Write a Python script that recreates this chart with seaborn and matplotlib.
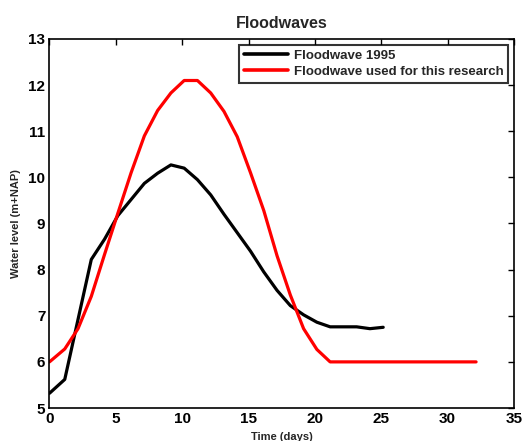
import matplotlib
matplotlib.use("Agg")
import matplotlib.pyplot as plt
import seaborn as sns
import pandas as pd

# Data
days_1995 = [0, 1.15, 3.15, 4.15, 5.15, 6.15, 7.15, 8.15, 9.15, 10.15, 11.15, 12.15,
             13.15, 14.15, 15.15, 16.15, 17.15, 18.15, 19.15, 20.15, 21.15, 22.15,
             23.15, 24.15, 25.15]
level_1995 = [5.32, 5.62, 8.22, 8.66, 9.17, 9.52, 9.87, 10.09, 10.27, 10.20, 9.95, 9.62,
              9.20, 8.80, 8.40, 7.95, 7.55, 7.22, 7.02, 6.86, 6.76, 6.76,
              6.76, 6.72, 6.75]

days_used = [0, 1.15, 2.15, 3.15, 4.15, 5.15, 6.15, 7.15, 8.15, 9.15, 10.15, 11.15,
             12.15, 13.15, 14.15, 15.15, 16.15, 17.15, 18.15, 19.15, 20.15, 21.15,
             22.15, 23.15, 24.15, 25.15, 26.15, 27.15, 28.15, 29.15, 30.15, 31.15, 32.15]
level_used = [6.00, 6.28, 6.72, 7.42, 8.33, 9.22, 10.10, 10.90, 11.45, 11.83, 12.10, 12.10,
              11.83, 11.43, 10.88, 10.10, 9.28, 8.30, 7.45, 6.72, 6.27, 6.00,
              6.00, 6.00, 6.00, 6.00, 6.00, 6.00, 6.00, 6.00, 6.00, 6.00, 6.00]

labels = ["Floodwave 1995", "Floodwave used for this research"]
colors = ["#000000", "#ff0000"]
x_ticks = [0, 5, 10, 15, 20, 25, 30, 35]
y_ticks = [5, 6, 7, 8, 9, 10, 11, 12, 13]

df = pd.concat([
    pd.DataFrame({"Time": days_1995, "Level": level_1995, "Series": labels[0]}),
    pd.DataFrame({"Time": days_used, "Level": level_used, "Series": labels[1]}),
], ignore_index=True)

sns.set_style("white")
plt.rcParams['font.family'] = ['Liberation Sans', 'DejaVu Sans']
plt.rcParams['font.weight'] = 'bold'

fig = plt.figure(figsize=(5.26, 4.41), dpi=100)
ax = fig.add_axes([0.0941, 0.0748, 0.8829, 0.8368])

sns.lineplot(data=df, x="Time", y="Level", hue="Series", hue_order=labels,
             palette=dict(zip(labels, colors)), sort=False, estimator=None,
             linewidth=2.3, ax=ax)

ax.set_xlim(0, 35)
ax.set_ylim(5, 13)
ax.set_xticks(x_ticks)
ax.set_yticks(y_ticks)
ax.tick_params(direction='in', top=True, right=True, length=4, width=1,
               labelsize=11, pad=3, colors='black')
for lab in ax.get_xticklabels() + ax.get_yticklabels():
    lab.set_fontweight('bold')
for s in ax.spines.values():
    s.set_visible(True)
    s.set_color('black')
    s.set_linewidth(1.2)

ax.set_title("Floodwaves", fontsize=11.5, fontweight='bold', pad=8)
ax.set_xlabel("Time (days)", fontsize=8, fontweight='bold', labelpad=4)
ax.set_ylabel("Water level (m+NAP)", fontsize=8, fontweight='bold', labelpad=5)

leg = ax.legend(loc='upper right', frameon=True, fancybox=False, fontsize=9.5,
                handlelength=3.3, handletextpad=0.45, borderpad=0.35,
                labelspacing=0.3, borderaxespad=0.45)
leg.get_frame().set_edgecolor('black')
leg.get_frame().set_linewidth(1.5)
for t in leg.get_texts():
    t.set_fontweight('bold')
for l in leg.get_lines():
    l.set_linewidth(2.6)

fig.savefig("out.png", dpi=100)
